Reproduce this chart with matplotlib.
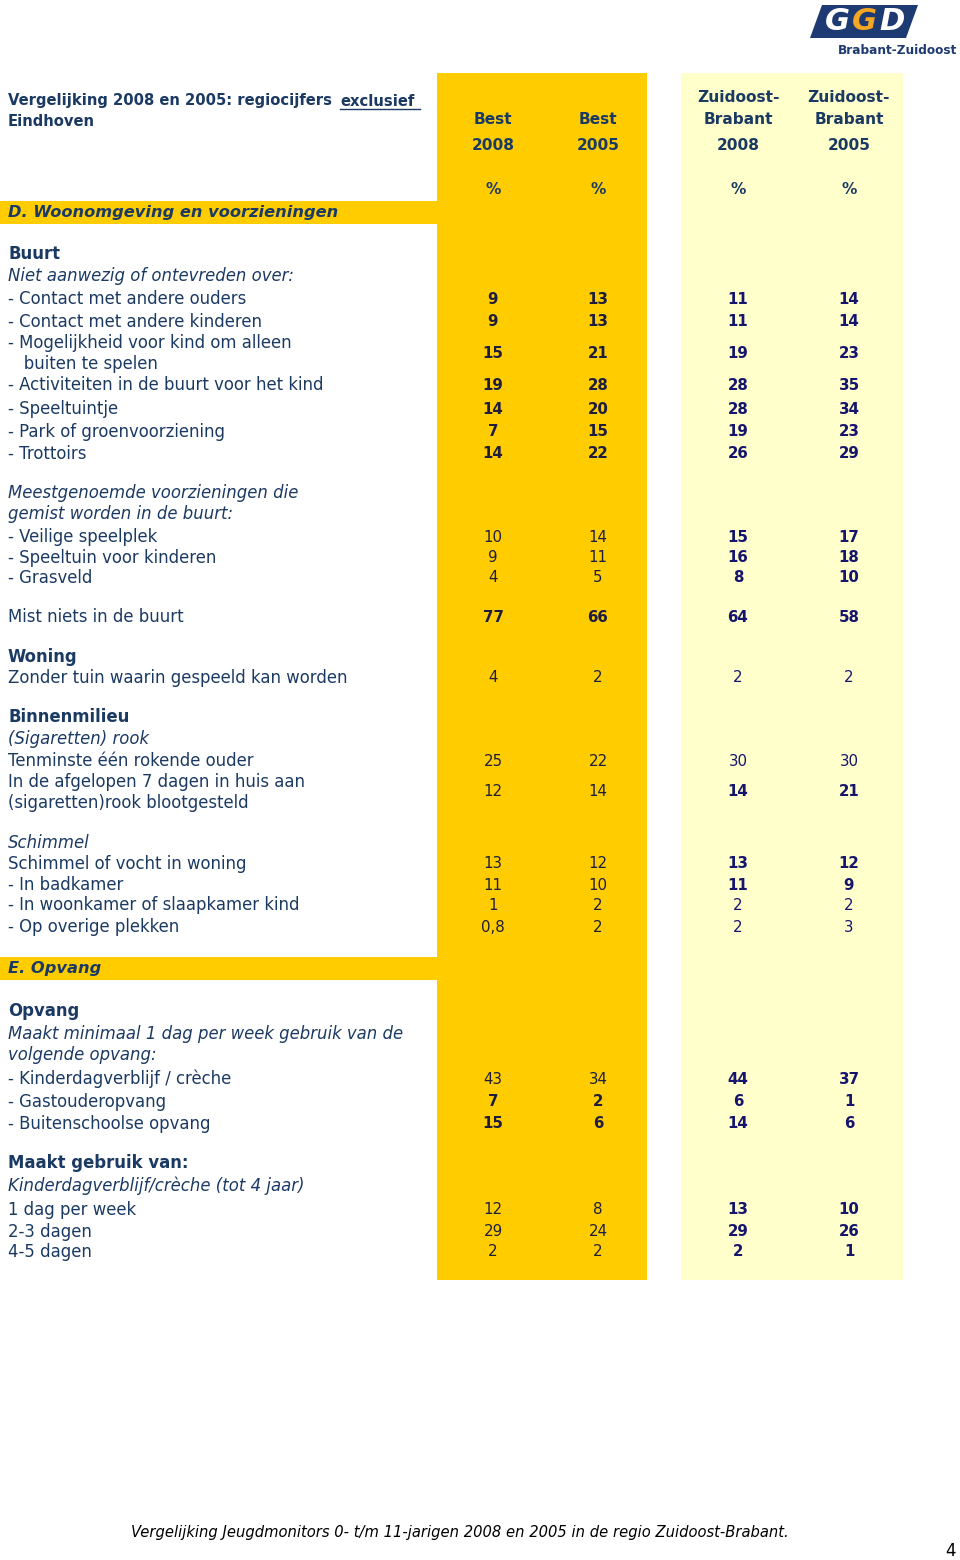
import matplotlib
matplotlib.use("Agg")
import matplotlib.pyplot as plt
from matplotlib.patches import Rectangle, Polygon

## DATA
col_heads = ["Best\n2008", "Best\n2005", "Zuidoost-\nBrabant\n2008", "Zuidoost-\nBrabant\n2005"]

row_labels = [
    "- Contact met andere ouders",
    "- Contact met andere kinderen",
    "- Mogelijkheid voor kind om alleen\n   buiten te spelen",
    "- Activiteiten in de buurt voor het kind",
    "- Speeltuintje",
    "- Park of groenvoorziening",
    "- Trottoirs",
    "- Veilige speelplek",
    "- Speeltuin voor kinderen",
    "- Grasveld",
    "Mist niets in de buurt",
    "Zonder tuin waarin gespeeld kan worden",
    "Tenminste één rokende ouder",
    "In de afgelopen 7 dagen in huis aan\n(sigaretten)rook blootgesteld",
    "Schimmel of vocht in woning",
    "- In badkamer",
    "- In woonkamer of slaapkamer kind",
    "- Op overige plekken",
    "- Kinderdagverblijf / crèche",
    "- Gastouderopvang",
    "- Buitenschoolse opvang",
    "1 dag per week",
    "2-3 dagen",
    "4-5 dagen",
]
best_2008 = ["9", "9", "15", "19", "14", "7", "14", "10", "9", "4", "77", "4", "25", "12",
             "13", "11", "1", "0,8", "43", "7", "15", "12", "29", "2"]
best_2005 = ["13", "13", "21", "28", "20", "15", "22", "14", "11", "5", "66", "2", "22", "14",
             "12", "10", "2", "2", "34", "2", "6", "8", "24", "2"]
zob_2008 = ["11", "11", "19", "28", "28", "19", "26", "15", "16", "8", "64", "2", "30", "14",
            "13", "11", "2", "2", "44", "6", "14", "13", "29", "2"]
zob_2005 = ["14", "14", "23", "35", "34", "23", "29", "17", "18", "10", "58", "2", "30", "21",
            "12", "9", "2", "3", "37", "1", "6", "10", "26", "1"]
# significant differences are printed bold
best_bold = [1, 1, 1, 1, 1, 1, 1, 0, 0, 0, 1, 0, 0, 0, 0, 0, 0, 0, 0, 1, 1, 0, 0, 0]
zob_bold = [1, 1, 1, 1, 1, 1, 1, 1, 1, 1, 1, 0, 0, 1, 1, 1, 0, 0, 1, 1, 1, 1, 1, 1]

# sub headings: (text, style)
sub_heads = [
    ("Buurt", "bold"),
    ("Niet aanwezig of ontevreden over:", "italic"),
    ("Meestgenoemde voorzieningen die", "italic"),
    ("gemist worden in de buurt:", "italic"),
    ("Woning", "bold"),
    ("Binnenmilieu", "bold"),
    ("(Sigaretten) rook", "italic"),
    ("Schimmel", "italic"),
    ("Opvang", "bold"),
    ("Maakt minimaal 1 dag per week gebruik van de", "italic"),
    ("volgende opvang:", "italic"),
    ("Maakt gebruik van:", "bold"),
    ("Kinderdagverblijf/crèche (tot 4 jaar)", "italic"),
]
sections = ["D. Woonomgeving en voorzieningen", "E. Opvang"]

## LAYOUT (pixels)
row_y = [299, 322, 353, 385, 409, 432, 454, 537, 558, 578, 617, 678, 761, 792,
         864, 885, 905, 927, 1079, 1102, 1124, 1210, 1232, 1252]
sub_y = [254, 276, 493, 514, 657, 717, 739, 843, 1011, 1034, 1055, 1163, 1186]
section_y = [213, 969]
col_x = [493, 598, 738, 849]

LABEL = "#1b3a63"
NUM_BEST = "#1e1e3c"
NUM_ZOB = "#15156e"
YELLOW = "#ffcc00"
PALE = "#ffffcc"
FS = 11.9       # body labels
FS_NUM = 10.8   # numbers
FS_HEAD = 11.1  # column headers

fig = plt.figure(figsize=(9.6, 15.6), dpi=100)
ax = fig.add_axes([0, 0, 1, 1])
ax.set_xlim(0, 960)
ax.set_ylim(1560, 0)
ax.axis("off")

## column backgrounds
ax.add_patch(Rectangle((437, 73), 210, 1207, color=YELLOW, lw=0))
ax.add_patch(Rectangle((681, 73), 222, 1207, color=PALE, lw=0))

## section bars
for name, y in zip(sections, section_y):
    ax.add_patch(Rectangle((0, y - 12), 437, 23, color=YELLOW, lw=0))
    ax.text(8, y, name, fontsize=11.7, fontweight="bold", fontstyle="italic",
            color=LABEL, va="center")

## title (with underlined word)
renderer = fig.canvas.get_renderer()
t1 = ax.text(8, 101, "Vergelijking 2008 en 2005: regiocijfers", fontsize=10.6,
             fontweight="bold", color=LABEL, va="center")
x_end = t1.get_window_extent(renderer).x1
x_ex = x_end + 8
t2 = ax.text(x_ex, 101, "exclusief", fontsize=10.6, fontweight="bold",
             color=LABEL, va="center")
x_ex_end = t2.get_window_extent(renderer).x1
ax.plot([x_ex, x_ex_end + 6], [109, 109], color=LABEL, lw=1)
ax.text(8, 121, "Eindhoven", fontsize=10.6, fontweight="bold", color=LABEL, va="center")

## column headers
for x, head in zip(col_x, col_heads):
    lines = head.split("\n")
    ys = [120, 145] if len(lines) == 2 else [98, 120, 145]
    for line, y in zip(lines, ys):
        ax.text(x, y, line, fontsize=FS_HEAD, fontweight="bold", color=LABEL,
                ha="center", va="center")
    ax.text(x, 190, "%", fontsize=FS_HEAD, fontweight="bold", color=LABEL,
            ha="center", va="center")

## sub headings
for (txt, style), y in zip(sub_heads, sub_y):
    if style == "bold":
        ax.text(8, y, txt, fontsize=11.9, fontweight="bold", color=LABEL, va="center")
    else:
        ax.text(8, y, txt, fontsize=FS, fontstyle="italic", color=LABEL, va="center")

## data rows
for i, (lab, y) in enumerate(zip(row_labels, row_y)):
    parts = lab.split("\n")
    if len(parts) == 2:
        ax.text(8, y - 10, parts[0], fontsize=FS, color=LABEL, va="center")
        ax.text(8, y + 11, parts[1], fontsize=FS, color=LABEL, va="center")
    else:
        ax.text(8, y, lab, fontsize=FS, color=LABEL, va="center")
    vals = [best_2008[i], best_2005[i], zob_2008[i], zob_2005[i]]
    bolds = [best_bold[i], best_bold[i], zob_bold[i], zob_bold[i]]
    colors = [NUM_BEST, NUM_BEST, NUM_ZOB, NUM_ZOB]
    for x, v, b, c in zip(col_x, vals, bolds, colors):
        ax.text(x, y, v, fontsize=FS_NUM, fontweight="bold" if b else "normal",
                color=c, ha="center", va="center")

## logo
ax.add_patch(Polygon([[822, 5], [918, 5], [906, 38], [810, 38]], closed=True,
                     color="#1d3a73", lw=0))
for ch, x, c in zip("GGD", [837, 864, 892], ["white", "#f5a623", "white"]):
    ax.text(x, 22, ch, fontsize=22, fontweight="bold", fontstyle="italic",
            color=c, ha="center", va="center")
ax.text(898, 50, "Brabant-Zuidoost", fontsize=8.7, fontweight="bold",
        color="#1d3a73", ha="center", va="center")

## footer
ax.text(460, 1532, "Vergelijking Jeugdmonitors 0- t/m 11-jarigen 2008 en 2005 in de regio Zuidoost-Brabant.",
        fontsize=10.6, fontstyle="italic", color="black", ha="center", va="center")
ax.text(950, 1551, "4", fontsize=12, color="black", ha="center", va="center")

plt.savefig("out.png", dpi=100)
